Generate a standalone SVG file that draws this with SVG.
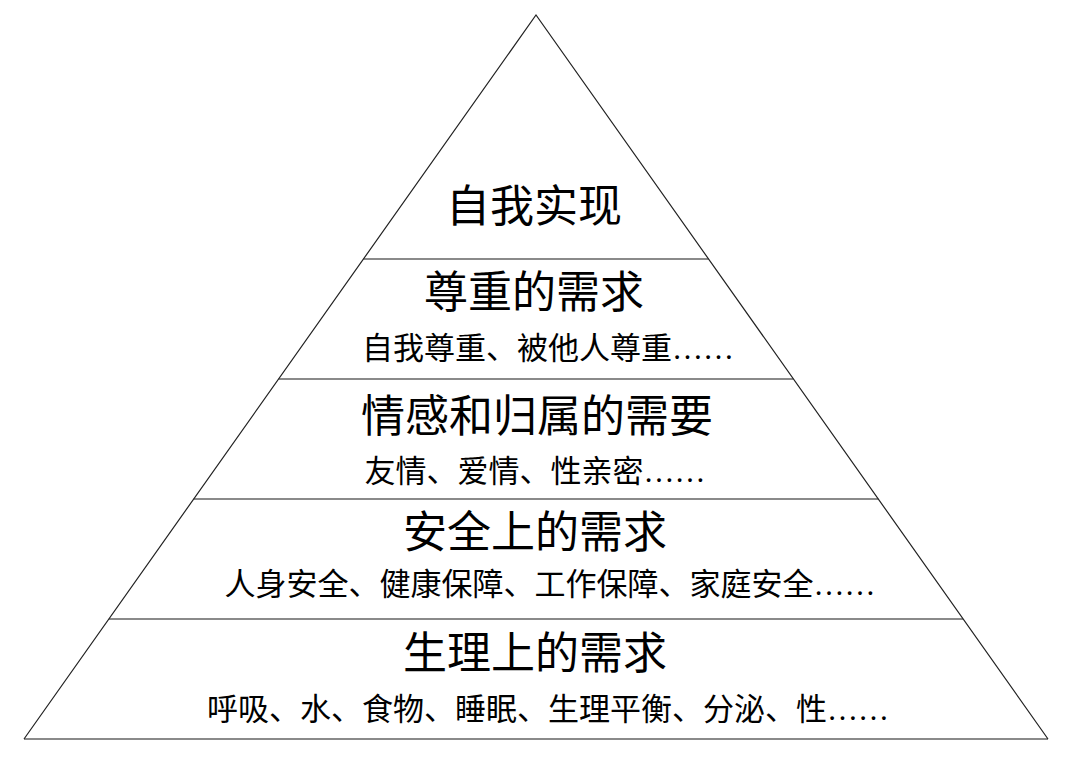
<svg xmlns="http://www.w3.org/2000/svg" width="1080" height="762" viewBox="0 0 1080 762">
  <style>
    .side { stroke: #222222; stroke-width: 1.2; fill: none; }
    .div { stroke: #8a8a8a; stroke-width: 2; }
    .t { font-family: "Liberation Serif", "Noto Sans CJK SC", serif; fill: #000000; text-anchor: middle; }
    .h { font-size: 44px; }
    .s { font-size: 31px; }
  </style>
  <rect x="0" y="0" width="1080" height="762" fill="#ffffff"/>
  <g id="pyramid-outline">
    <line class="div" x1="24" y1="739" x2="1048" y2="739"/>
    <line class="div" x1="363.5" y1="259" x2="708.5" y2="259"/>
    <line class="div" x1="278.6" y1="379" x2="793.4" y2="379"/>
    <line class="div" x1="193.7" y1="499" x2="878.3" y2="499"/>
    <line class="div" x1="108.9" y1="619" x2="963.1" y2="619"/>
    <polyline class="side" points="24,739 536,15 1048,739"/>
  </g>
  <g id="level-self-actualization">
    <text class="t h" x="534" y="222">自我实现</text>
  </g>
  <g id="level-esteem">
    <text class="t h" x="534" y="308">尊重的需求</text>
    <text class="t s" x="548" y="359">自我尊重、被他人尊重……</text>
  </g>
  <g id="level-love">
    <text class="t h" x="537" y="432">情感和归属的需要</text>
    <text class="t s" x="535" y="482">友情、爱情、性亲密……</text>
  </g>
  <g id="level-safety">
    <text class="t h" x="535" y="548">安全上的需求</text>
    <text class="t s" x="550" y="595">人身安全、健康保障、工作保障、家庭安全……</text>
  </g>
  <g id="level-physiological">
    <text class="t h" x="535" y="669">生理上的需求</text>
    <text class="t s" x="548" y="720">呼吸、水、食物、睡眠、生理平衡、分泌、性……</text>
  </g>
</svg>
